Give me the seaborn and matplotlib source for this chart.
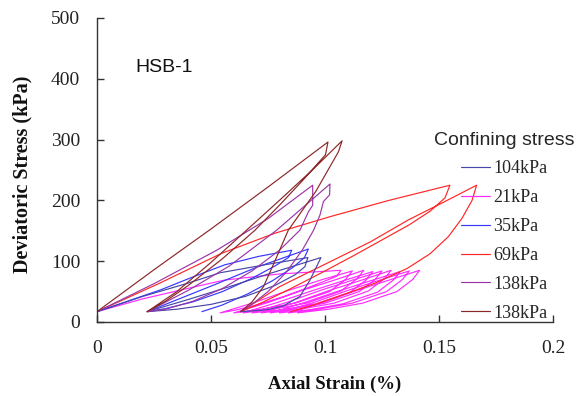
import matplotlib
matplotlib.use("Agg")
import matplotlib.pyplot as plt
import seaborn as sns
import pandas as pd

sns.set_style("ticks")
plt.rcParams["font.family"] = ["Liberation Serif", "DejaVu Serif"]

# Axial strain (%) and deviatoric stress (kPa) along each loading path
strain_104 = [0.000, 0.020, 0.040, 0.054, 0.075, 0.0925, 0.0912, 0.087, 0.078, 0.065,
              0.050, 0.035, 0.022, 0.040, 0.058, 0.076, 0.0982, 0.0963, 0.0934, 0.089,
              0.082, 0.0744, 0.063]
stress_104 = [17, 42, 64, 81, 95, 106, 91, 78, 60, 42,
              29, 21, 17, 37, 58, 80, 106, 91, 69, 42,
              27, 20, 17]

strain_21 = [0.000, 0.020, 0.043, 0.056, 0.080, 0.107, 0.105, 0.095, 0.082, 0.070, 0.060, 0.054,
             0.069, 0.084, 0.099, 0.112, 0.109, 0.102, 0.087, 0.072, 0.060,
             0.075, 0.090, 0.105, 0.117, 0.114, 0.107, 0.092, 0.077, 0.064,
             0.079, 0.094, 0.109, 0.121, 0.118, 0.111, 0.096, 0.081, 0.068,
             0.083, 0.098, 0.113, 0.125, 0.122, 0.115, 0.100, 0.085, 0.072,
             0.087, 0.102, 0.117, 0.129, 0.126, 0.119, 0.104, 0.089, 0.076,
             0.091, 0.106, 0.121, 0.133, 0.130, 0.123, 0.108, 0.093, 0.080,
             0.095, 0.110, 0.125, 0.137, 0.134, 0.127, 0.112, 0.097, 0.084,
             0.099, 0.114, 0.129, 0.1415, 0.1385, 0.1315, 0.1165, 0.1015, 0.088]
stress_21 = [17, 38, 58, 69, 79, 85, 75, 60, 42, 28, 19, 15,
             32, 52, 70, 84, 70, 50, 31, 21, 15,
             32, 52, 70, 85, 71, 51, 31, 21, 15,
             32, 51, 69, 83, 69, 49, 30, 20, 15,
             32, 52, 70, 84, 70, 50, 31, 21, 15,
             32, 52, 70, 85, 71, 51, 31, 21, 15,
             32, 51, 69, 83, 69, 49, 30, 20, 15,
             32, 52, 70, 84, 70, 50, 31, 21, 15,
             32, 52, 70, 85, 70, 50, 31, 21, 15]

strain_35 = [0.000, 0.014, 0.028, 0.042, 0.056, 0.071, 0.0854, 0.084, 0.078, 0.068,
             0.055, 0.042, 0.030, 0.022, 0.036, 0.052, 0.070, 0.0927, 0.091, 0.086,
             0.077, 0.066, 0.055, 0.046]
stress_35 = [17, 35, 53, 74, 94, 108, 118, 106, 92, 72,
             50, 33, 22, 17, 38, 62, 90, 120, 106, 90,
             68, 46, 28, 17]

strain_69 = [0.000, 0.027, 0.0547, 0.078, 0.102, 0.128, 0.1548, 0.1526, 0.146, 0.137,
             0.125, 0.112, 0.098, 0.085, 0.073, 0.063, 0.080, 0.100, 0.120, 0.1366,
             0.152, 0.1665, 0.1645, 0.160, 0.154, 0.146, 0.136, 0.122, 0.108, 0.095,
             0.085]
stress_69 = [17, 63, 113, 146, 173, 200, 225, 204, 182, 160,
             135, 108, 80, 55, 33, 17, 58, 95, 132, 168,
             197, 225, 200, 170, 140, 112, 88, 64, 45, 28,
             17]

strain_138a = [0.000, 0.025, 0.0525, 0.075, 0.0946, 0.0946, 0.0927, 0.089, 0.080, 0.068,
               0.055, 0.042, 0.030, 0.022, 0.040, 0.058, 0.0788, 0.1022, 0.1020, 0.0993,
               0.0978, 0.095, 0.090, 0.083, 0.075, 0.068, 0.063]
stress_138a = [17, 63, 118, 170, 225, 192, 181, 151, 118, 84,
               55, 34, 21, 17, 52, 92, 151, 227, 209, 198,
               176, 151, 118, 82, 50, 29, 17]

strain_138b = [0.000, 0.025, 0.050, 0.075, 0.1013, 0.1002, 0.090, 0.080, 0.0693, 0.055,
               0.040, 0.030, 0.022, 0.035, 0.050, 0.0656, 0.080, 0.095, 0.1075, 0.1059,
               0.096, 0.0839, 0.078, 0.073, 0.068, 0.063]
stress_138b = [17, 86, 153, 222, 296, 275, 232, 192, 151, 104,
               60, 34, 17, 50, 98, 151, 200, 252, 298, 280,
               215, 151, 100, 58, 33, 17]

labels = ["104kPa", "21kPa", "35kPa", "69kPa", "138kPa", "138kPa"]
colors = ["#4646a6", "#ff2bff", "#3636ff", "#ff2626", "#9a36a6", "#8c2626"]
strains = [strain_104, strain_21, strain_35, strain_69, strain_138a, strain_138b]
stresses = [stress_104, stress_21, stress_35, stress_69, stress_138a, stress_138b]

x_ticks = [0, 0.05, 0.1, 0.15, 0.2]
x_ticklabels = ["0", "0.05", "0.1", "0.15", "0.2"]
y_ticks = [0, 100, 200, 300, 400, 500]

fig = plt.figure(figsize=(5.81, 3.96), dpi=100)
ax = fig.add_axes([97 / 581, 74 / 396, 456 / 581, 304 / 396])

handles = [None] * len(labels)
for i in [1, 3, 2, 0, 4, 5]:
    df = pd.DataFrame({"strain": strains[i], "stress": stresses[i]})
    sns.lineplot(data=df, x="strain", y="stress", sort=False, estimator=None,
                 color=colors[i], linewidth=0.85, ax=ax)
    handles[i] = ax.lines[-1]

ax.set_xlim(0, 0.2)
ax.set_ylim(0, 500)
ax.set_xticks(x_ticks)
ax.set_xticklabels(x_ticklabels)
ax.set_yticks(y_ticks)
ax.tick_params(direction="in", length=5, width=1, colors="#333333",
               labelcolor="#222222", labelsize=14)
ax.tick_params(axis="x", pad=13)
ax.tick_params(axis="y", pad=12)
for side in ["top", "right"]:
    ax.spines[side].set_visible(False)
for side in ["left", "bottom"]:
    ax.spines[side].set_color("#333333")
    ax.spines[side].set_linewidth(1)

ax.set_xlabel("Axial Strain (%)", fontsize=13.5, fontweight="bold", color="#111111")
ax.set_ylabel("Deviatoric Stress (kPa)", fontsize=14.5, fontweight="bold", color="#111111")
ax.xaxis.set_label_coords(0.522, -0.175)
ax.yaxis.set_label_coords(-0.142, 0.486)

ax.text(0.0167, 418, "HSB-1", family="Liberation Sans", fontsize=14,
        va="center", ha="left", color="#111111")

leg = ax.legend(handles, labels, title="Confining stress", loc="upper left",
                bbox_to_anchor=(425 / 581, 1 - 123 / 396), bbox_transform=fig.transFigure,
                frameon=False, borderpad=0, prop={"family": "Liberation Serif", "size": 13},
                title_fontproperties={"family": "Liberation Sans", "size": 14},
                handlelength=1.6, handletextpad=0.2, labelspacing=0.66)
leg._legend_box.sep = 8

fig.savefig("out.png", dpi=100)
